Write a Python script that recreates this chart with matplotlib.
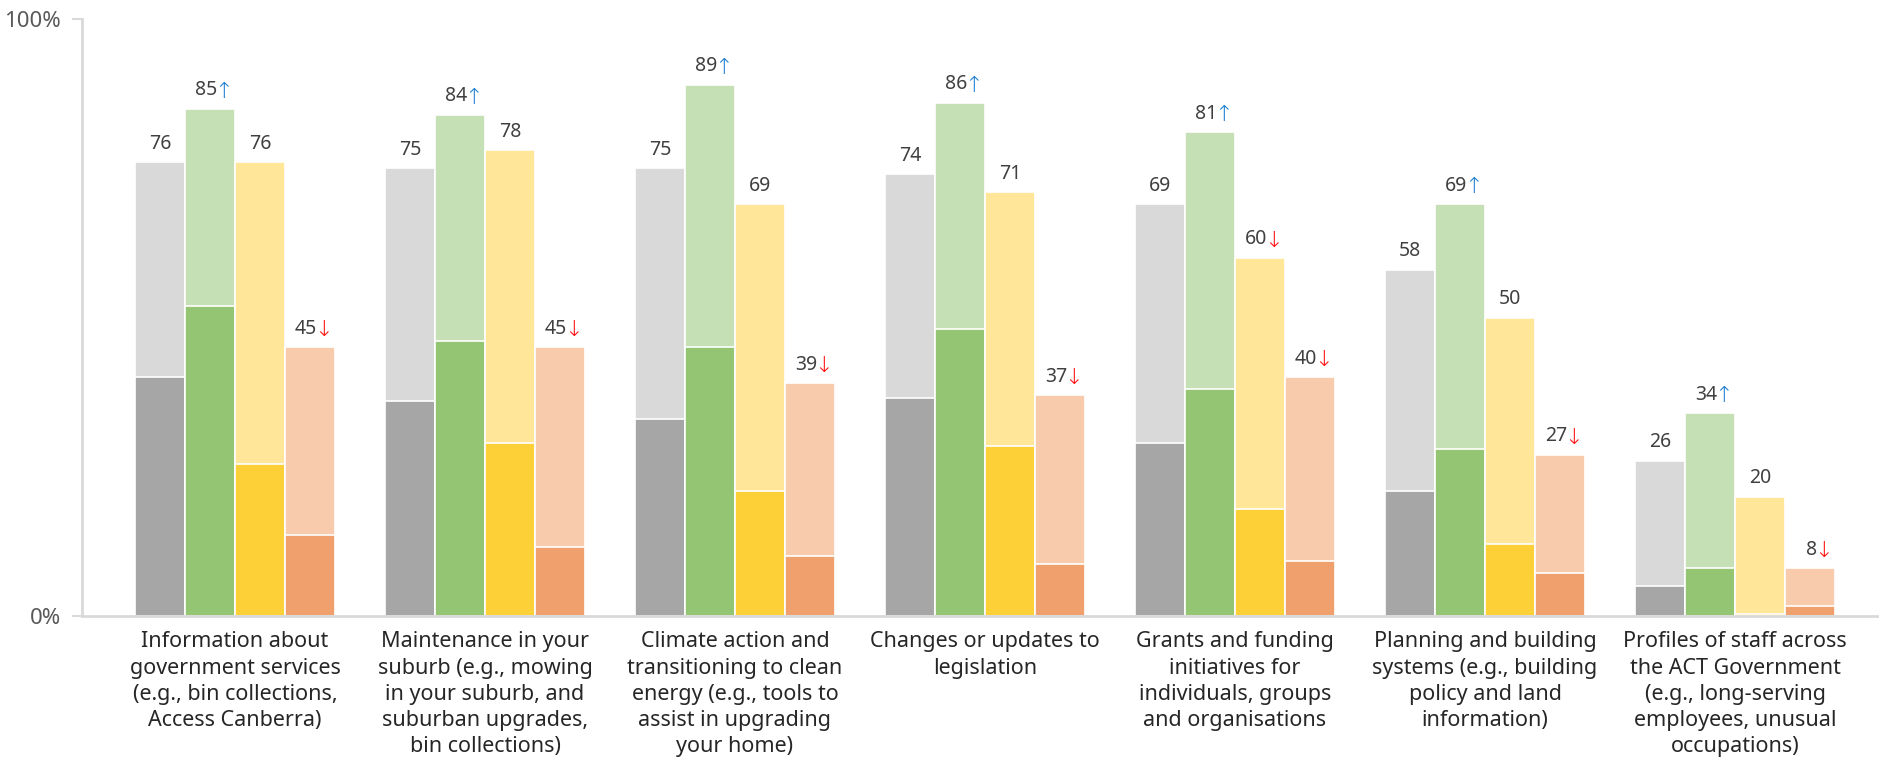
import matplotlib
matplotlib.use("Agg")
import matplotlib.pyplot as plt
import numpy as np

plt.rcParams['font.family'] = ['Noto Sans', 'DejaVu Sans']

categories = [
    "Information about\ngovernment services\n(e.g., bin collections,\nAccess Canberra)",
    "Maintenance in your\nsuburb (e.g., mowing\nin your suburb, and\nsuburban upgrades,\nbin collections)",
    "Climate action and\ntransitioning to clean\nenergy (e.g., tools to\nassist in upgrading\nyour home)",
    "Changes or updates to\nlegislation",
    "Grants and funding\ninitiatives for\nindividuals, groups\nand organisations",
    "Planning and building\nsystems (e.g., building\npolicy and land\ninformation)",
    "Profiles of staff across\nthe ACT Government\n(e.g., long-serving\nemployees, unusual\noccupations)",
]

# total (light) values per series
grey_total = [76, 75, 75, 74, 69, 58, 26]
green_total = [85, 84, 89, 86, 81, 69, 34]
yellow_total = [76, 78, 69, 71, 60, 50, 20]
orange_total = [45, 45, 39, 37, 40, 27, 8]

# inner (dark) values per series
grey_inner = [40, 36, 33, 36.5, 29, 21, 5]
green_inner = [52, 46, 45, 48, 38, 28, 8]
yellow_inner = [25.5, 29, 21, 28.5, 18, 12, 0.4]
orange_inner = [13.5, 11.5, 10, 8.7, 9.2, 7.2, 1.7]

# significance arrows
grey_trend = ['', '', '', '', '', '', '']
green_trend = ['up', 'up', 'up', 'up', 'up', 'up', 'up']
yellow_trend = ['', '', '', '', 'down', '', '']
orange_trend = ['down', 'down', 'down', 'down', 'down', 'down', 'down']

series = [
    (grey_total, grey_inner, grey_trend, '#D9D9D9', '#A6A6A6'),
    (green_total, green_inner, green_trend, '#C5E0B4', '#94C572'),
    (yellow_total, yellow_inner, yellow_trend, '#FFE699', '#FDD037'),
    (orange_total, orange_inner, orange_trend, '#F8CBAD', '#F0A06C'),
]

fig = plt.figure(figsize=(18.79, 7.59), dpi=100)
ax = fig.add_axes([82 / 1879, 1 - 616 / 759, 1 - 82 / 1879, 597 / 759])

x = np.arange(len(categories))
w = 0.2
text_col = '#404040'

for i, (tot, inner, trend, light, dark) in enumerate(series):
    pos = x + (i - 1.5) * w
    ax.bar(pos, tot, width=w, color=light, edgecolor='white', linewidth=1.2)
    ax.bar(pos, inner, width=w, color=dark, edgecolor='white', linewidth=1.2)
    for p, t, tr in zip(pos, tot, trend):
        if tr == '':
            ax.annotate(str(t), (p, t), xytext=(0, 6), textcoords='offset points',
                        ha='center', va='bottom', fontsize=14, color=text_col)
        else:
            arrow = '↑' if tr == 'up' else '↓'
            acol = '#1F7FD0' if tr == 'up' else '#FF1010'
            ax.annotate(str(t), (p, t), xytext=(5, 6), textcoords='offset points',
                        ha='right', va='bottom', fontsize=14, color=text_col)
            ax.annotate(arrow, (p, t), xytext=(3, 5), textcoords='offset points',
                        ha='left', va='bottom', fontsize=16, color=acol,
                        family='DejaVu Sans', fontweight='light')

ax.set_xlim(-0.612, 6.576)
ax.set_ylim(0, 100)
ax.set_yticks([0, 100])
ax.set_yticklabels(['0%', '100%'], fontsize=16, color='#595959')
ax.set_xticks(x)
ax.set_xticklabels(categories, fontsize=15.5, color='#262626', linespacing=1.33)
ax.tick_params(axis='x', length=0, pad=11)
ax.tick_params(axis='y', length=7, width=1.5, color='#D9D9D9', pad=8)

for s in ['top', 'right']:
    ax.spines[s].set_visible(False)
for s in ['left', 'bottom']:
    ax.spines[s].set_color('#D9D9D9')
    ax.spines[s].set_linewidth(2)

fig.savefig('out.png', dpi=100)
